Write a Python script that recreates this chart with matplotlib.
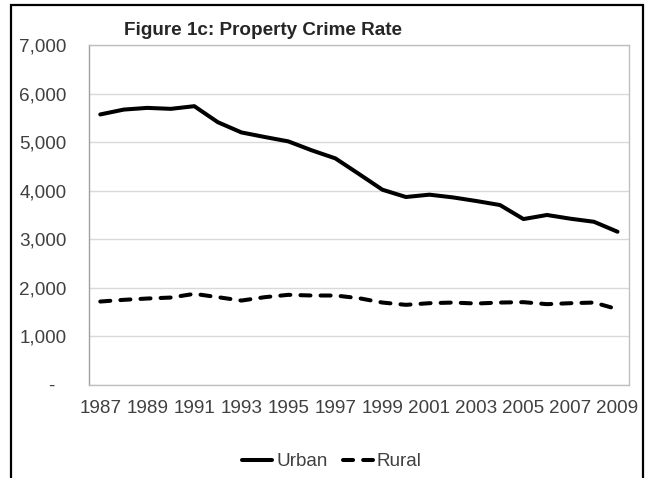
import matplotlib
matplotlib.use('Agg')
from matplotlib import pyplot as plt
from matplotlib.patches import Rectangle
from matplotlib.lines import Line2D

plt.rcParams['font.family'] = ['Liberation Sans', 'DejaVu Sans']

years = list(range(1987, 2010))
urban = [5570, 5670, 5705, 5685, 5740, 5410, 5200, 5105, 5015, 4830, 4665, 4345,
         4020, 3870, 3918, 3862, 3787, 3705, 3416, 3500, 3423, 3360, 3155]
rural = [1718, 1753, 1780, 1800, 1876, 1808, 1738, 1808, 1856, 1842, 1842, 1787,
         1697, 1650, 1684, 1697, 1677, 1697, 1705, 1664, 1684, 1697, 1560]
y_ticks = [0, 1000, 2000, 3000, 4000, 5000, 6000, 7000]

fig = plt.figure(figsize=(6.48, 4.78), dpi=100)
ax = fig.add_axes([0.1366, 0.1946, 0.8345, 0.7113])

x = list(range(len(years)))
ax.plot(x, urban, color='black', lw=2.9, solid_capstyle='round', solid_joinstyle='round')
ax.plot(x, rural, color='black', lw=2.9, linestyle=(0, (2.5, 2.5)),
        dash_capstyle='round', dash_joinstyle='round')

ax.set_xlim(-0.5, len(years) - 0.5)
ax.set_ylim(0, 7000)
ax.set_yticks(y_ticks)
ax.set_yticklabels(['-  '] + [f'{v:,}' for v in y_ticks[1:]])
ax.set_xticks(x[::2])
ax.set_xticklabels([str(y) for y in years[::2]])
ax.tick_params(length=0, labelsize=13.6, colors='#404040')
ax.tick_params(axis='x', pad=11)
ax.tick_params(axis='y', pad=16)
ax.grid(axis='y', color='#d9d9d9', lw=1)
ax.set_axisbelow(True)
for s in ax.spines.values():
    s.set_color('#bfbfbf')
    s.set_linewidth(1)
ax.spines['left'].set_color('#a0a0a0')

fig.text(0.406, 0.936, 'Figure 1c: Property Crime Rate', ha='center', va='center',
         fontsize=13.6, fontweight='bold', color='#262626')

h1 = Line2D([], [], color='black', lw=2.9, solid_capstyle='round')
h2 = Line2D([], [], color='black', lw=2.9, linestyle=(0, (2.5, 2.5)), dash_capstyle='round')
fig.legend([h1, h2], ['Urban', 'Rural'], loc='center', bbox_to_anchor=(0.512, 0.034),
           ncol=2, frameon=False, fontsize=13.6, handlelength=1.6, handletextpad=0.2,
           columnspacing=0.8, labelcolor='#404040')

fig.patches.append(Rectangle((10.5 / 648, -0.05), (643 - 10.5) / 648, 1.05 - 5 / 478,
                             transform=fig.transFigure, fill=False, ec='black', lw=1.6))

fig.savefig('out.png', dpi=100)
